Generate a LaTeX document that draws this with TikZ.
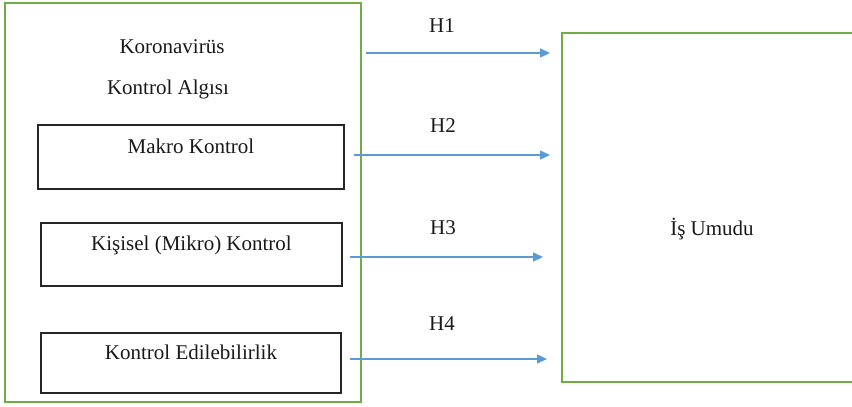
\documentclass[tikz,border=0pt]{standalone}
\usepackage{fontspec}
\setmainfont{Liberation Serif}
\usetikzlibrary{arrows.meta}
\definecolor{kutuyesil}{RGB}{112,173,71}
\definecolor{okmavi}{RGB}{91,155,213}

\begin{document}
\begin{tikzpicture}[x=1pt, y=-1pt,
    every node/.style={font=\fontsize{21}{25}\selectfont, text=black!90},
    yesilkutu/.style={draw=kutuyesil, line width=2pt, inner sep=0pt},
    kutu/.style={draw=black!85, line width=1.3pt, inner sep=0pt},
    ok/.style={draw=okmavi, line width=1.3pt, -{Triangle[length=10pt,width=9pt]}}]
    \useasboundingbox (0,0) rectangle (852,407);
    \clip (0,0) rectangle (852,407);

    % Left frame with the three sub-dimensions
    \node[yesilkutu, minimum width=356pt, minimum height=399pt] (algi) at (183,202.5) {};
    \node[anchor=base] (koronalbl) at (172,53) {Koronavirüs};
    \node[anchor=base] (algilbl) at (168,94) {Kontrol Algısı};

    \node[kutu, minimum width=306pt, minimum height=64pt] (makro) at (191,157) {};
    \node[anchor=base] (makrolbl) at ([yshift=-29pt]makro.north) {Makro Kontrol};
    \node[kutu, minimum width=301pt, minimum height=63pt] (kisisel) at (191.5,254.5) {};
    \node[anchor=base] (kisisellbl) at ([yshift=-28pt]kisisel.north) {Kişisel (Mikro) Kontrol};
    \node[kutu, minimum width=300pt, minimum height=60pt] (edil) at (191,363) {};
    \node[anchor=base] (edillbl) at ([yshift=-27pt]edil.north) {Kontrol Edilebilirlik};

    % Right frame, open on the right side (runs off the page)
    \node[yesilkutu, minimum width=340pt, minimum height=349pt] (umut) at (732,207.5) {};
    \node[anchor=base] (umutlbl) at (712,235) {İş Umudu};

    % Hypothesis arrows
    \coordinate (h1bas) at (366,53);
    \draw[ok, shorten >=11pt] (h1bas) -- (h1bas -| umut.west);
    \draw[ok, shorten >=11pt] ([shift={(9,-2)}]makro.east) coordinate (h2bas) -- (h2bas -| umut.west);
    \draw[ok, shorten >=18pt] ([shift={(7,2.5)}]kisisel.east) coordinate (h3bas) -- (h3bas -| umut.west);
    \draw[ok, shorten >=14pt] ([shift={(8,-4)}]edil.east) coordinate (h4bas) -- (h4bas -| umut.west);

    \node[anchor=base] (h1) at (442,32) {H1};
    \node[anchor=base] (h2) at (443,132) {H2};
    \node[anchor=base] (h3) at (443,234) {H3};
    \node[anchor=base] (h4) at (442,330) {H4};
\end{tikzpicture}
\end{document}
